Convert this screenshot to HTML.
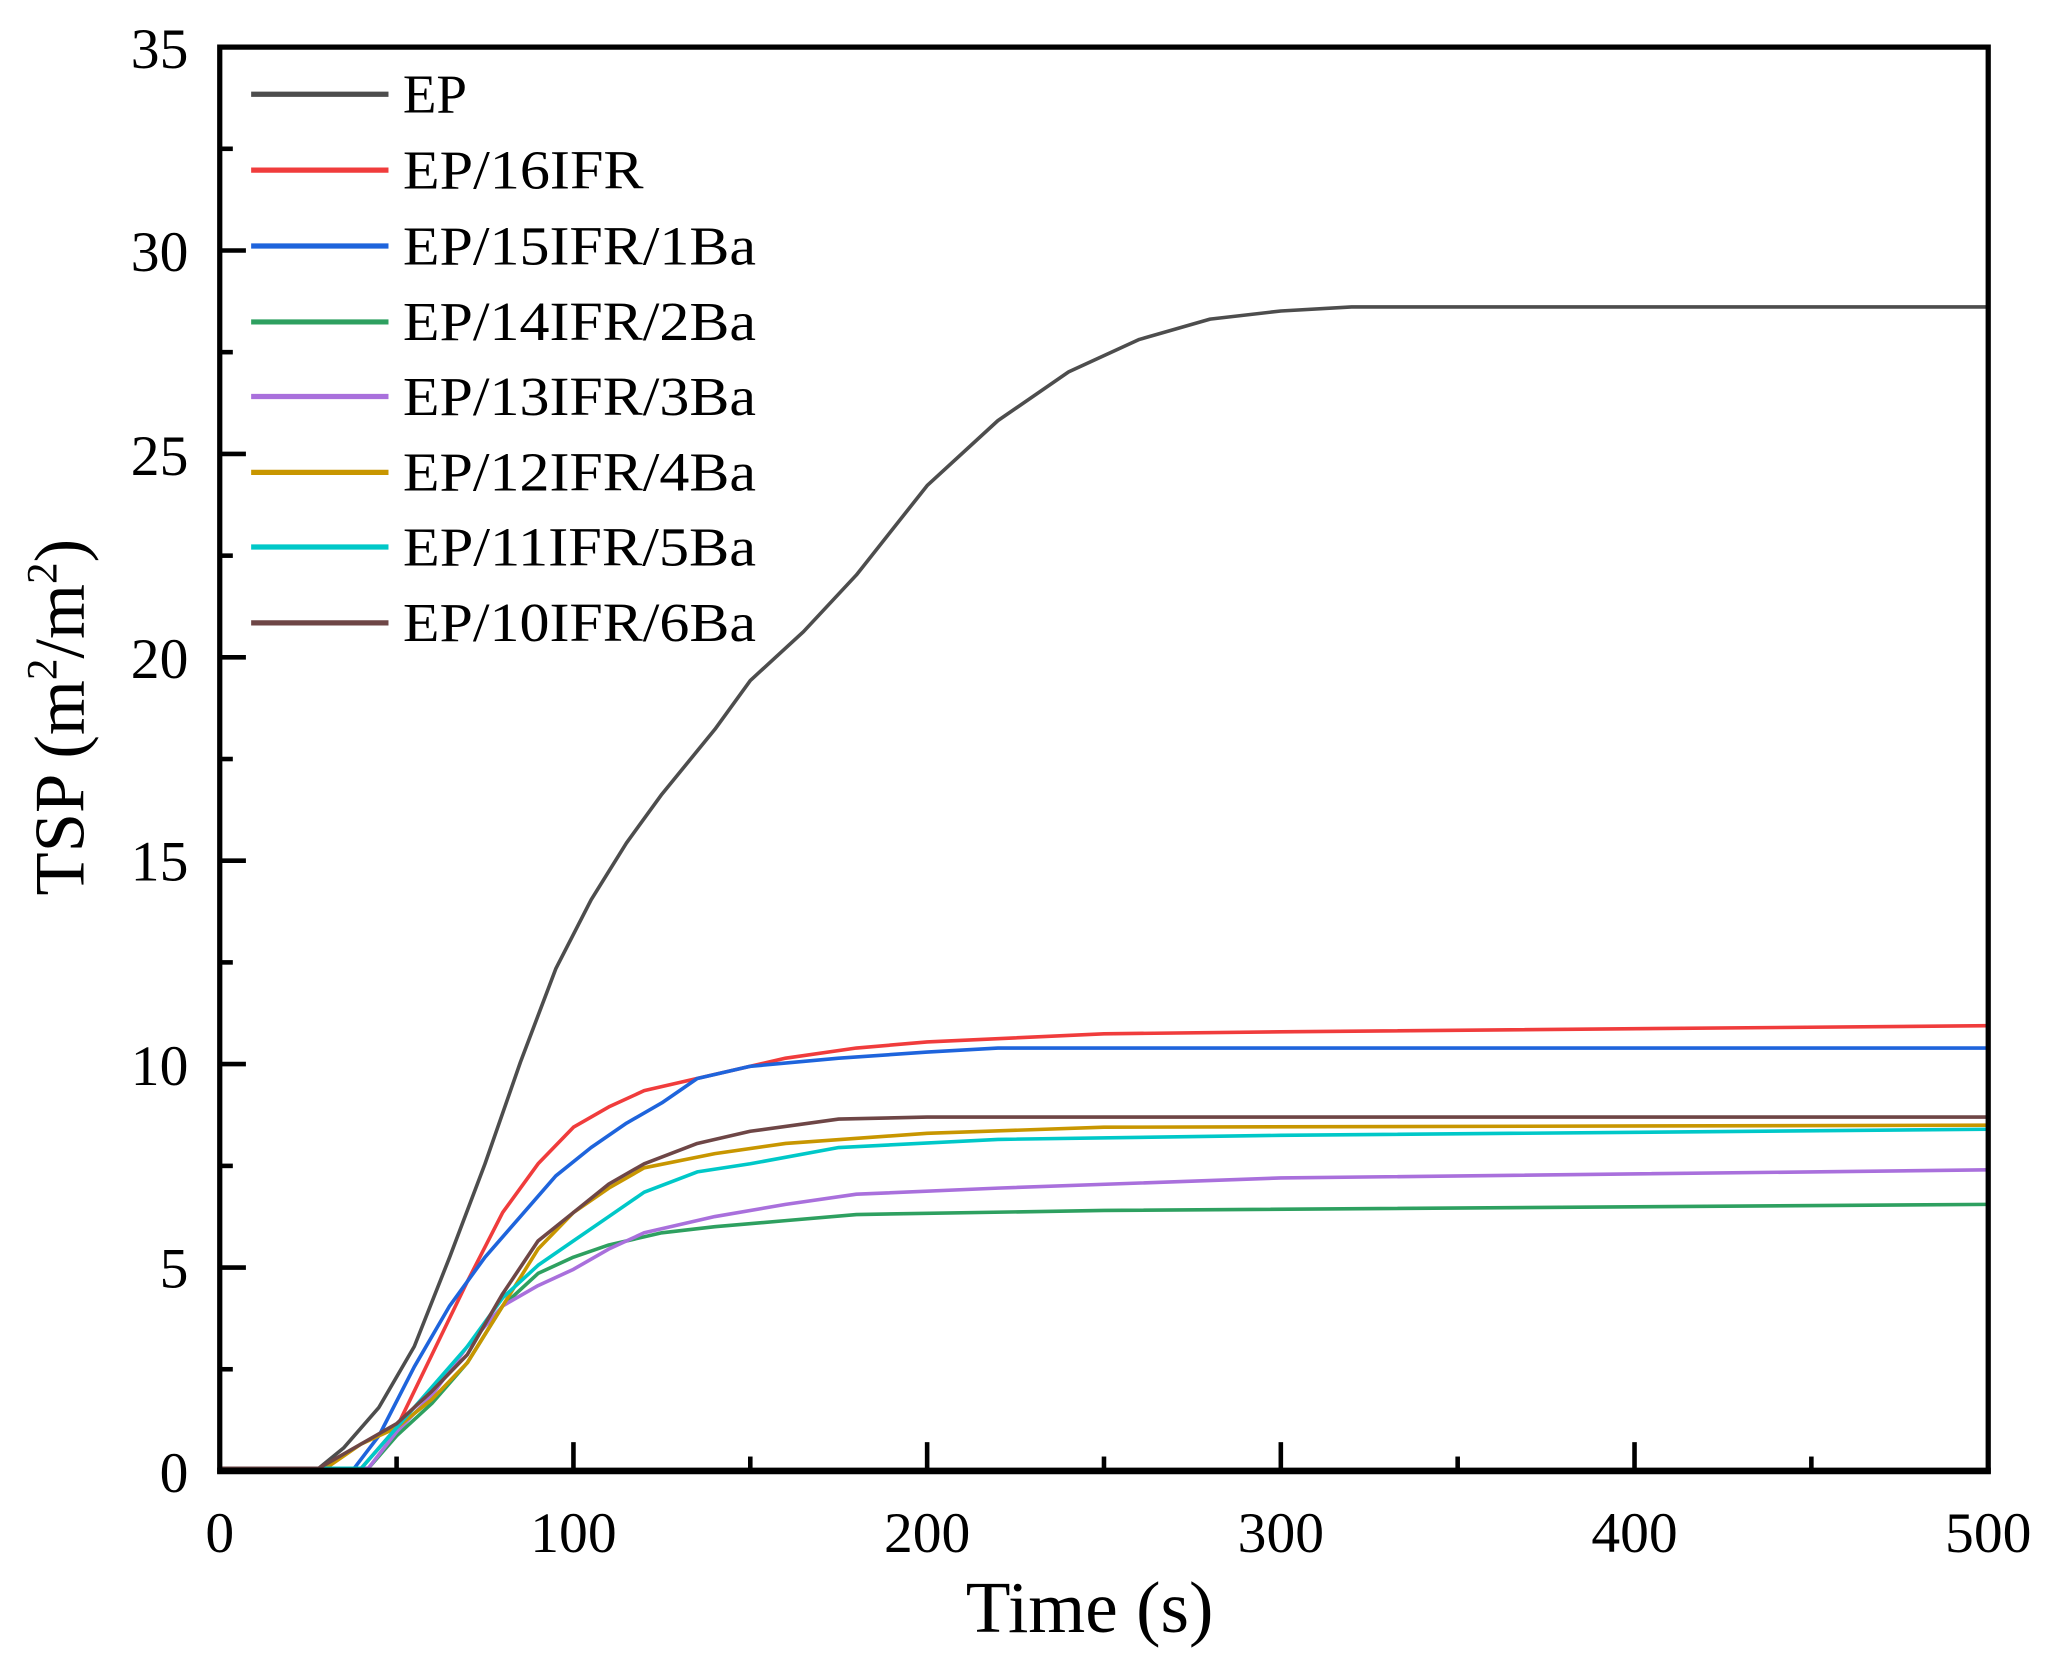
<!DOCTYPE html>
<html><head><meta charset="utf-8"><style>
html,body{margin:0;padding:0;background:#fff;}
svg{display:block;}
text{font-family:"Liberation Serif",serif;fill:#000;}
</style></head><body>
<svg width="2051" height="1662" viewBox="0 0 1568 1270" preserveAspectRatio="none" xmlns="http://www.w3.org/2000/svg">
<rect width="1568" height="1270" fill="#fff"/>
<g fill="none" stroke-width="3.6" stroke-linejoin="round">
<g transform="translate(168,1122) scale(2.704,-31.03)">
<polyline vector-effect="non-scaling-stroke" stroke="#4d4d4d" points="0,0 28,0 35,0.5 45,1.5 55,3 65,5.2 75,7.5 85,10 95,12.3 105,14 115,15.4 125,16.6 140,18.2 150,19.4 165,20.6 180,22 200,24.2 220,25.8 240,27 260,27.8 280,28.3 300,28.5 320,28.6 500,28.6"/>
<polyline vector-effect="non-scaling-stroke" stroke="#f03c3c" points="0,0 40,0 50,1 60,2.8 70,4.6 80,6.3 90,7.5 100,8.4 110,8.9 120,9.3 140,9.7 160,10.1 180,10.35 200,10.5 250,10.7 300,10.75 500,10.9"/>
<polyline vector-effect="non-scaling-stroke" stroke="#1e64dc" points="0,0 38,0 45,0.8 55,2.5 65,4 75,5.2 85,6.2 95,7.2 105,7.9 115,8.5 125,9 135,9.6 150,9.9 175,10.1 200,10.25 220,10.35 500,10.35"/>
<polyline vector-effect="non-scaling-stroke" stroke="#2ea060" points="0,0 42,0 50,0.8 60,1.6 70,2.6 80,4 90,4.8 100,5.2 110,5.5 125,5.8 140,5.95 160,6.1 180,6.25 250,6.35 500,6.5"/>
<polyline vector-effect="non-scaling-stroke" stroke="#a970dc" points="0,0 42,0 50,0.9 60,1.8 70,3 80,4 90,4.5 100,4.9 110,5.4 120,5.8 140,6.2 160,6.5 180,6.75 220,6.9 300,7.15 500,7.35"/>
<polyline vector-effect="non-scaling-stroke" stroke="#c89600" points="0,0 30,0 40,0.6 50,1 60,1.7 70,2.6 80,4 90,5.4 100,6.3 110,6.9 120,7.4 140,7.75 160,8 200,8.25 250,8.4 500,8.45"/>
<polyline vector-effect="non-scaling-stroke" stroke="#00c8c8" points="0,0 40,0 50,1 60,2 70,3 80,4.2 90,5 100,5.6 110,6.2 120,6.8 135,7.3 150,7.5 175,7.9 220,8.1 300,8.2 500,8.35"/>
<polyline vector-effect="non-scaling-stroke" stroke="#6e4646" points="0,0 28,0 40,0.6 50,1.1 60,1.9 70,2.8 80,4.3 90,5.6 100,6.3 110,7 120,7.5 135,8 150,8.3 175,8.6 200,8.65 500,8.65"/>
</g>
</g>
<rect x="168" y="36" width="1352" height="1088" fill="none" stroke="#000" stroke-width="4"/>
<line x1="166" y1="1124" x2="1522" y2="1124" stroke="#000" stroke-width="5"/>
<g stroke="#000" stroke-width="3.5">
<line x1="168" y1="968.6" x2="188" y2="968.6"/>
<line x1="168" y1="813.1" x2="188" y2="813.1"/>
<line x1="168" y1="657.7" x2="188" y2="657.7"/>
<line x1="168" y1="502.3" x2="188" y2="502.3"/>
<line x1="168" y1="346.9" x2="188" y2="346.9"/>
<line x1="168" y1="191.4" x2="188" y2="191.4"/>
<line x1="168" y1="1046.3" x2="178" y2="1046.3"/>
<line x1="168" y1="890.9" x2="178" y2="890.9"/>
<line x1="168" y1="735.4" x2="178" y2="735.4"/>
<line x1="168" y1="580" x2="178" y2="580"/>
<line x1="168" y1="424.6" x2="178" y2="424.6"/>
<line x1="168" y1="269.1" x2="178" y2="269.1"/>
<line x1="168" y1="113.7" x2="178" y2="113.7"/>
<line x1="438.4" y1="1124" x2="438.4" y2="1102"/>
<line x1="708.8" y1="1124" x2="708.8" y2="1102"/>
<line x1="979.2" y1="1124" x2="979.2" y2="1102"/>
<line x1="1249.6" y1="1124" x2="1249.6" y2="1102"/>
<line x1="303.2" y1="1124" x2="303.2" y2="1113"/>
<line x1="573.6" y1="1124" x2="573.6" y2="1113"/>
<line x1="844" y1="1124" x2="844" y2="1113"/>
<line x1="1114.4" y1="1124" x2="1114.4" y2="1113"/>
<line x1="1384.8" y1="1124" x2="1384.8" y2="1113"/>
</g>
<g font-size="44" text-anchor="end">
<text x="144" y="1140">0</text>
<text x="144" y="984">5</text>
<text x="144" y="829">10</text>
<text x="144" y="673">15</text>
<text x="144" y="518">20</text>
<text x="144" y="363">25</text>
<text x="144" y="207">30</text>
<text x="144" y="52">35</text>
</g>
<g font-size="44" text-anchor="middle">
<text x="168" y="1186">0</text>
<text x="438.4" y="1186">100</text>
<text x="708.8" y="1186">200</text>
<text x="979.2" y="1186">300</text>
<text x="1249.6" y="1186">400</text>
<text x="1520" y="1186">500</text>
</g>
<text x="833" y="1247" font-size="56" text-anchor="middle">Time (s)</text>
<text transform="translate(64,548) rotate(-90)" font-size="54" text-anchor="middle">TSP (m<tspan font-size="33" dy="-21">2</tspan><tspan dy="21">/m</tspan><tspan font-size="33" dy="-21">2</tspan><tspan dy="21">)</tspan></text>
<g stroke-width="4">
<line x1="192" y1="72" x2="297" y2="72" stroke="#4d4d4d"/>
<line x1="192" y1="130" x2="297" y2="130" stroke="#f03c3c"/>
<line x1="192" y1="188" x2="297" y2="188" stroke="#1e64dc"/>
<line x1="192" y1="246" x2="297" y2="246" stroke="#2ea060"/>
<line x1="192" y1="303" x2="297" y2="303" stroke="#a970dc"/>
<line x1="192" y1="361" x2="297" y2="361" stroke="#c89600"/>
<line x1="192" y1="418" x2="297" y2="418" stroke="#00c8c8"/>
<line x1="192" y1="476" x2="297" y2="476" stroke="#6e4646"/>
</g>
<g font-size="42">
<text x="308" y="86">EP</text>
<text x="308" y="144" textLength="184" lengthAdjust="spacingAndGlyphs">EP/16IFR</text>
<text x="308" y="202" textLength="270" lengthAdjust="spacingAndGlyphs">EP/15IFR/1Ba</text>
<text x="308" y="260" textLength="270" lengthAdjust="spacingAndGlyphs">EP/14IFR/2Ba</text>
<text x="308" y="317" textLength="270" lengthAdjust="spacingAndGlyphs">EP/13IFR/3Ba</text>
<text x="308" y="375" textLength="270" lengthAdjust="spacingAndGlyphs">EP/12IFR/4Ba</text>
<text x="308" y="432" textLength="270" lengthAdjust="spacingAndGlyphs">EP/11IFR/5Ba</text>
<text x="308" y="490" textLength="270" lengthAdjust="spacingAndGlyphs">EP/10IFR/6Ba</text>
</g>
</svg>
</body></html>
